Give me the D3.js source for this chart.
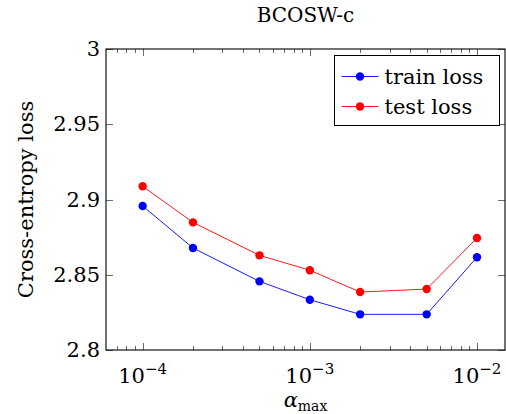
<!DOCTYPE html>
<html>
	<head>
		<title>BCOSW-c</title>
		<script src="https://d3js.org/d3.v7.min.js"></script>
		<style>
			body { margin: 0; background: #fff; }
			text { font-family: "DejaVu Serif", serif; fill: #000; }
		</style>
	</head>
	<body>
		<div class="chart"></div>
		<script>
			// data
			var alphas = [1e-4, 2e-4, 5e-4, 1e-3, 2e-3, 5e-3, 1e-2];
			var trainLoss = [2.8957, 2.8678, 2.8456, 2.8334, 2.8237, 2.8237, 2.8616];
			var testLoss = [2.9088, 2.8848, 2.8629, 2.8530, 2.8385, 2.8405, 2.8744];
			var seriesNames = ["train loss", "test loss"];
			var seriesColors = ["#0000ff", "#ff0000"];
			var yTicks = [2.8, 2.85, 2.9, 2.95, 3];
			var xMajor = [1e-4, 1e-3, 1e-2];
			var xMajorExp = ["\u22124", "\u22123", "\u22122"];

			var width = 506, height = 414;
			var pLeft = 106, pRight = 505, pTop = 49, pBottom = 350;

			var svg = d3.select(".chart").append("svg")
				.attr("width", width)
				.attr("height", height);

			var x = d3.scaleLog()
				.domain([Math.pow(10, -4 - 36.6 / 167), Math.pow(10, -2 + 28 / 167)])
				.range([pLeft, pRight]);
			var y = d3.scaleLinear()
				.domain([2.8, 3])
				.range([pBottom, pTop]);

			// minor ticks on log axis
			var minor = [];
			[-5, -4, -3, -2].forEach(function(e) {
				for (var k = 2; k <= 9; k++) {
					var v = k * Math.pow(10, e);
					if (v > x.domain()[0] && v < x.domain()[1]) minor.push(v);
				}
			});

			var ticks = svg.append("g").attr("stroke", "#444").attr("stroke-width", 0.8);
			minor.forEach(function(v) {
				var px = Math.round(x(v)) + 0.5;
				ticks.append("line").attr("x1", px).attr("x2", px).attr("y1", pBottom).attr("y2", pBottom - 4);
				ticks.append("line").attr("x1", px).attr("x2", px).attr("y1", pTop).attr("y2", pTop + 4);
			});
			xMajor.forEach(function(v) {
				var px = Math.round(x(v)) + 0.5;
				ticks.append("line").attr("x1", px).attr("x2", px).attr("y1", pBottom).attr("y2", pBottom - 7);
				ticks.append("line").attr("x1", px).attr("x2", px).attr("y1", pTop).attr("y2", pTop + 7);
			});
			yTicks.forEach(function(v) {
				var py = Math.round(y(v)) + 0.5;
				ticks.append("line").attr("x1", pLeft).attr("x2", pLeft + 7).attr("y1", py).attr("y2", py);
				ticks.append("line").attr("x1", pRight).attr("x2", pRight - 7).attr("y1", py).attr("y2", py);
			});

			// axis box
			svg.append("rect")
				.attr("x", pLeft).attr("y", pTop)
				.attr("width", pRight - pLeft).attr("height", pBottom - pTop)
				.attr("fill", "none").attr("stroke", "#000").attr("stroke-width", 1.1);

			// y tick labels
			svg.append("g").selectAll("text")
				.data(yTicks).enter().append("text")
				.attr("x", pLeft - 6)
				.attr("y", function(d) { return y(d) + 7; })
				.attr("text-anchor", "end")
				.attr("font-size", 21)
				.text(function(d) { return String(+d.toFixed(2)); });

			// x tick labels
			var xl = svg.append("g").selectAll("text")
				.data(xMajor).enter().append("text")
				.attr("x", function(d) { return x(d); })
				.attr("y", 383)
				.attr("text-anchor", "middle")
				.attr("font-size", 21);
			xl.append("tspan").text("10");
			xl.append("tspan")
				.attr("dy", -9)
				.attr("font-size", 15)
				.text(function(d, i) { return xMajorExp[i]; });

			// lines and markers
			var series = [trainLoss, testLoss];
			var line = d3.line()
				.x(function(d) { return x(d[0]); })
				.y(function(d) { return y(d[1]); });

			series.forEach(function(vals, s) {
				var pts = alphas.map(function(a, i) { return [a, vals[i]]; });
				svg.append("path")
					.datum(pts)
					.attr("d", line)
					.attr("fill", "none")
					.attr("stroke", seriesColors[s])
					.attr("stroke-width", 0.9);
				svg.append("g").selectAll("circle")
					.data(pts).enter().append("circle")
					.attr("cx", function(d) { return x(d[0]); })
					.attr("cy", function(d) { return y(d[1]); })
					.attr("r", 4.2)
					.attr("fill", seriesColors[s]);
			});

			// legend
			var lg = svg.append("g").attr("transform", "translate(334.5,55.5)");
			lg.append("rect")
				.attr("width", 165).attr("height", 70)
				.attr("fill", "#fff").attr("stroke", "#000").attr("stroke-width", 1);
			seriesNames.forEach(function(name, i) {
				var cy = 21 + i * 30;
				lg.append("line")
					.attr("x1", 7).attr("x2", 44).attr("y1", cy).attr("y2", cy)
					.attr("stroke", seriesColors[i]).attr("stroke-width", 0.9);
				lg.append("circle")
					.attr("cx", 25.5).attr("cy", cy).attr("r", 4.2)
					.attr("fill", seriesColors[i]);
				lg.append("text")
					.attr("x", 50).attr("y", cy + 7)
					.attr("font-size", 21)
					.text(name);
			});

			// title and axis labels
			svg.append("text")
				.attr("x", (pLeft + pRight) / 2).attr("y", 22)
				.attr("text-anchor", "middle")
				.attr("font-size", 20)
				.text("BCOSW-c");

			svg.append("text")
				.attr("transform", "translate(33," + (pTop + pBottom) / 2 + ") rotate(-90)")
				.attr("text-anchor", "middle")
				.attr("font-size", 21)
				.text("Cross-entropy loss");

			var xlab = svg.append("text")
				.attr("x", (pLeft + pRight) / 2).attr("y", 407)
				.attr("text-anchor", "middle")
				.attr("font-size", 21);
			xlab.append("tspan").attr("font-style", "italic").text("\u03b1");
			xlab.append("tspan").attr("font-size", 14).attr("dy", 4).text("max");
		</script>
	</body>
</html>
